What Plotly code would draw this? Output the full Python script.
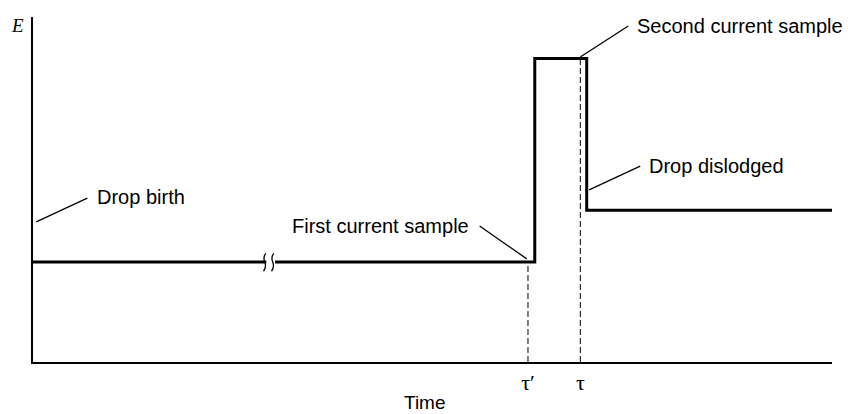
import plotly.graph_objects as go

# Potential waveform (arbitrary units: x 0..100, y 0..100)
seg1_x = [0, 29.2]
seg1_y = [29, 29]
seg2_x = [30.3, 62.8, 62.8, 69.3, 69.3, 100]
seg2_y = [29, 29, 88, 88, 44, 44]

tau_prime = 61.95
tau = 68.5
tick_vals = [tau_prime, tau]
tick_text = ["τ′", "τ"]

labels = ["Drop birth", "First current sample", "Second current sample", "Drop dislodged"]
# leader lines: (x0,y0) at curve -> (x1,y1) near text
leaders = [
    ((0.4, 40.6), (6.8, 47.5)),
    ((61.8, 29.9), (55.9, 39.4)),
    ((68.5, 88.4), (74.5, 97.4)),
    ((69.6, 49.9), (76.0, 56.8)),
]
text_pos = [(7.8, 47.8, "left"), (54.8, 39.4, "right"), (75.3, 97.4, "left"), (76.8, 56.8, "left")]

fig = go.Figure()
line_style = dict(color="black", width=3)
fig.add_trace(go.Scatter(x=seg1_x, y=seg1_y, mode="lines", line=line_style, hoverinfo="skip"))
fig.add_trace(go.Scatter(x=seg2_x, y=seg2_y, mode="lines", line=line_style, hoverinfo="skip"))

# dashed sample lines
fig.add_trace(go.Scatter(x=[tau_prime, tau_prime], y=[0, 29], mode="lines",
                         line=dict(color="black", width=1, dash="6px,3px"), hoverinfo="skip"))
fig.add_trace(go.Scatter(x=[tau, tau], y=[0, 88], mode="lines",
                         line=dict(color="black", width=1, dash="6px,3px"), hoverinfo="skip"))

shapes = []
for (x0, y0), (x1, y1) in leaders:
    shapes.append(dict(type="line", x0=x0, y0=y0, x1=x1, y1=y1, xref="x", yref="y",
                       line=dict(color="black", width=1.3)))
# axis break squiggles
for xb in [29.0, 30.0]:
    shapes.append(dict(type="path", xref="x", yref="y",
                       path=f"M {xb+0.15},31.5 Q {xb-0.25},30.5 {xb},29 Q {xb+0.25},27.5 {xb-0.15},26.3",
                       line=dict(color="black", width=1.3)))

txt_font = dict(family="Liberation Sans, Arial", size=20, color="black")
annotations = []
for (x, y, anc), t in zip(text_pos, labels):
    annotations.append(dict(x=x, y=y, xref="x", yref="y", text=t, showarrow=False,
                            xanchor=anc, yanchor="middle", font=txt_font))
# y-axis label E
annotations.append(dict(x=-0.02, y=0.975, xref="paper", yref="paper", text="<i>E</i>",
                        showarrow=False, xanchor="center", yanchor="middle",
                        font=dict(family="Liberation Serif", size=19, color="black")))
# x-axis title
annotations.append(dict(x=0.491, y=-0.118, xref="paper", yref="paper", text="Time",
                        showarrow=False, xanchor="center", yanchor="middle",
                        font=dict(family="Liberation Sans, Arial", size=19, color="black")))

fig.update_layout(
    width=848, height=414,
    margin=dict(l=33, r=16, t=17, b=52),
    paper_bgcolor="white", plot_bgcolor="white",
    showlegend=False,
    shapes=shapes, annotations=annotations,
    xaxis=dict(range=[0, 100], showgrid=False, zeroline=False, showline=True,
               linecolor="black", linewidth=2, tickmode="array", tickvals=tick_vals,
               ticktext=tick_text, ticks="", automargin=False,
               tickfont=dict(family="Liberation Serif", size=22, color="black"),
               fixedrange=True),
    yaxis=dict(range=[0, 100], showgrid=False, zeroline=False, showline=True,
               linecolor="black", linewidth=2, showticklabels=False, ticks="",
               automargin=False, fixedrange=True),
)

fig.write_html("out.html")
